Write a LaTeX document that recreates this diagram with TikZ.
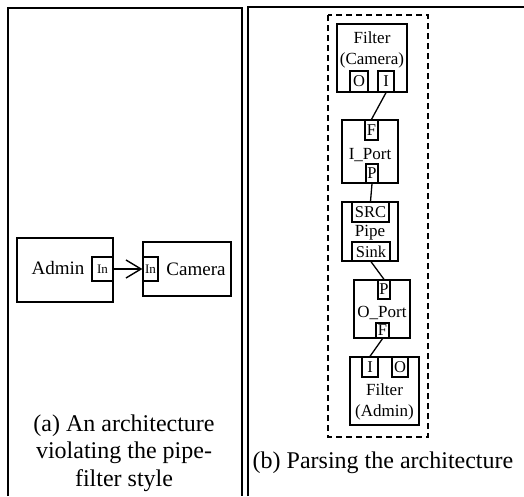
\documentclass[tikz,border=0pt]{standalone}
\usepackage{fontspec}
\setmainfont{Liberation Serif}
\usetikzlibrary{arrows.meta}

\begin{document}
\begin{tikzpicture}[x=1pt,y=-1pt,
  panel/.style={line width=1.4pt},
  comp/.style={rectangle,draw,line width=1.3pt,inner sep=0pt},
  port/.style={rectangle,draw,line width=1.3pt,inner sep=0pt,font=\fontsize{16.5}{18}\selectfont},
  txt/.style={inner sep=0pt,align=center,font=\fontsize{17}{21}\selectfont},
  caption/.style={inner sep=0pt,align=center,font=\fontsize{24}{27.5}\selectfont}]

  \useasboundingbox (0,0) rectangle (524,496);

  % Rahmen
  \draw[panel] (8,496) -- (8,8) -- (242,8) -- (242,496);
  \draw[panel] (248,496) -- (248,7) -- (524,7);

  % (a)
  \node[comp,minimum width=96pt,minimum height=64pt] (admin) at (65,270) {};
  \node[comp,minimum width=88pt,minimum height=54pt] (camera) at (187,269) {};
  \node[txt,font=\fontsize{19}{21}\selectfont] at (58,268) {Admin};
  \node[txt,font=\fontsize{19}{21}\selectfont] at (196,269) {Camera};
  \node[port,minimum width=21pt,minimum height=24pt,font=\fontsize{13}{15}\selectfont] (ain) at (102.5,269) {In};
  \node[port,minimum width=15pt,minimum height=24pt,font=\fontsize{13}{15}\selectfont] (cin) at (150.5,269) {In};

  \draw[line width=1.3pt,-{Straight Barb[length=15pt,width=18pt,line width=1.4pt]}] (ain) -- (cin);

  \node[caption,anchor=base] at (124,486) {(a) An architecture\\violating the pipe-\\filter style};

  % (b)
  \draw[line width=1.4pt,dash pattern=on 6pt off 4pt] (328,15) rectangle (428,437);

  \node[comp,minimum width=70pt,minimum height=68pt] (fcam) at (372,58) {};
  \node[txt] at (372,50) {Filter\\(Camera)};
  \node[port,minimum width=18pt,minimum height=21pt] (fcamO) at (359,81.5) {O};
  \node[port,minimum width=16pt,minimum height=21pt] (fcamI) at (386,81.5) {I};

  \node[comp,minimum width=56pt,minimum height=63pt] (iport) at (370,151.5) {};
  \node[port,minimum width=13pt,minimum height=20pt] (iportF) at (371.5,130) {F};
  \node[txt] at (370,155) {I\_Port};
  \node[port,minimum width=12pt,minimum height=19pt] (iportP) at (372,173.5) {P};

  \node[comp,minimum width=56pt,minimum height=59pt] (pipe) at (370,231.5) {};
  \node[port,minimum width=37pt,minimum height=20pt] (src) at (370.5,212) {SRC};
  \node[txt] at (370,233) {Pipe};
  \node[port,minimum width=38pt,minimum height=19pt] (sink) at (371,251.5) {Sink};

  \node[comp,minimum width=56pt,minimum height=58pt] (oport) at (382,309) {};
  \node[port,minimum width=12pt,minimum height=19pt] (oportP) at (384,289.5) {P};
  \node[txt] at (382,313) {O\_Port};
  \node[port,minimum width=13pt,minimum height=15pt] (oportF) at (382.5,330.5) {F};

  \node[comp,minimum width=69pt,minimum height=68pt] (fadm) at (384.5,391) {};
  \node[port,minimum width=16pt,minimum height=20pt] (fadmI) at (370,367) {I};
  \node[port,minimum width=16pt,minimum height=20pt] (fadmO) at (400,367) {O};
  \node[txt] at (384.5,402) {Filter\\(Admin)};

  \path[line width=1.3pt]
    (fcamI.south) edge (iportF.north)
    (iportP.south) edge (src.north)
    (sink.south)  edge (oportP.north)
    (oportF.south) edge (fadmI.north);

  \node[caption,anchor=base] at (383,468) {(b) Parsing the architecture};

\end{tikzpicture}
\end{document}
